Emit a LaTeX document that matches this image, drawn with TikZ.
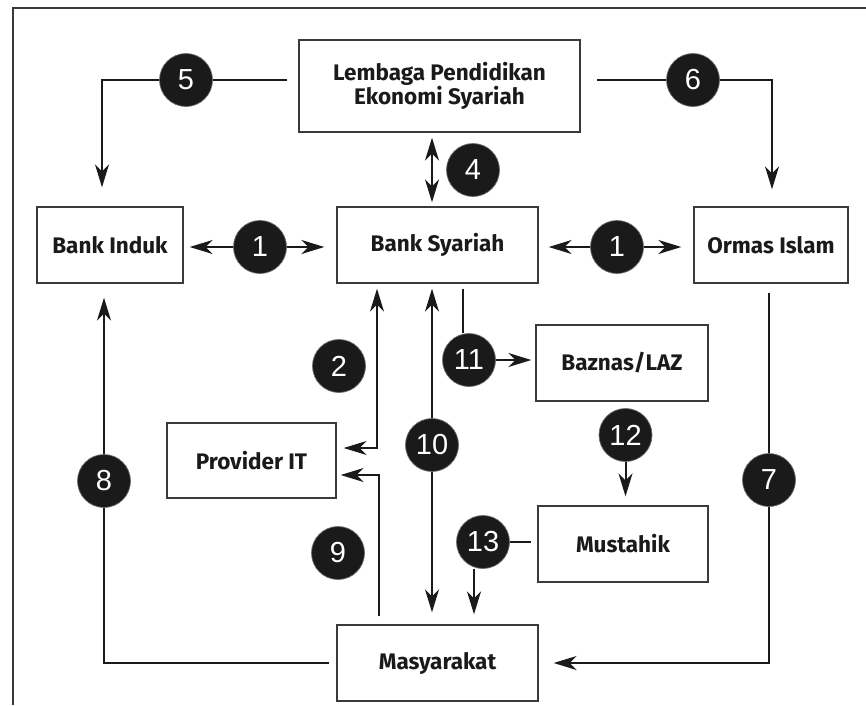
\documentclass[tikz,border=0pt]{standalone}
\usepackage{fontspec}
\usetikzlibrary{arrows.meta}
\newfontfamily\lblfont{Fira Sans}
\newfontfamily\numfont{Liberation Sans}
\definecolor{ink}{HTML}{1A1A1A}
\definecolor{boxline}{HTML}{3A3A3A}
\definecolor{ringgray}{HTML}{6A6A6A}
\begin{document}
\begin{tikzpicture}[x=1pt,y=-1pt,
 box/.style={draw=boxline, line width=1.3pt, fill=white, inner sep=0pt, align=center, text=ink,
   font=\lblfont\bfseries\fontsize{22.5}{24}\selectfont},
 num/.style={circle, fill=ink, draw=ringgray, line width=0.7pt, minimum size=53pt, inner sep=0pt,
   text=white, font=\numfont\fontsize{29}{29}\selectfont},
 ln/.style={draw=ink, line width=2pt},
 tipsty/.tip={Stealth[length=23pt,width=14pt,inset=7pt]},
 arr/.style={ln, -tipsty},
 darr/.style={ln, tipsty-tipsty},
 framesty/.style={draw=boxline, line width=1.3pt}]
\useasboundingbox (0,0) rectangle (866,705);
% frame
\draw[framesty] (866,8) -- (13,8) -- (13,705);
% boxes
\node[box, minimum width=281pt, minimum height=92pt] (lem) at (439.5,86) {Lembaga Pendidikan\\Ekonomi Syariah};
\node[box, minimum width=146pt, minimum height=76pt] (bi) at (110,245) {Bank Induk};
\node[box, minimum width=201pt, minimum height=76pt] (bs) at (437.5,245) {Bank Syariah};
\node[box, minimum width=154pt, minimum height=76pt] (or) at (771,245) {Ormas Islam};
\node[box, minimum width=169pt, minimum height=75pt] (pit) at (251.5,460.5) {Provider IT};
\node[box, minimum width=172pt, minimum height=76pt] (baz) at (622,363) {Baznas/LAZ};
\node[box, minimum width=170pt, minimum height=76pt] (mus) at (623,544) {Mustahik};
\node[box, minimum width=201pt, minimum height=76pt] (mas) at (437.5,663) {Masyarakat};
% numbered circles
\node[num] (c5) at (186,80) {5};
\node[num] (c6) at (693,80) {6};
\node[num] (c4) at (473,170) {4};
\node[num] (c1a) at (260,247) {1};
\node[num] (c1b) at (617,247) {1};
\node[num] (c2) at (339,366) {2};
\node[num] (c11) at (469,360) {11};
\node[num] (c12) at (625.5,435) {12};
\node[num] (c10) at (432,445) {10};
\node[num] (c8) at (104,481) {8};
\node[num] (c7) at (769,480) {7};
\node[num] (c9) at (338,553) {9};
\node[num] (c13) at (483,542) {13};
% 5
\draw[ln, shorten <=11pt] (lem.west |- c5) -- (c5);
\draw[arr, shorten >=19pt] (c5) -| ([xshift=-8pt]bi.north);
% 6
\draw[ln, shorten <=16pt] (lem.east |- c6) -- (c6);
\draw[arr, shorten >=17pt] (c6) -| ([xshift=1pt]or.north);
% 4
\draw[darr, shorten <=5pt, shorten >=4pt] ([xshift=-7.5pt]lem.south) -- ([xshift=-5.5pt]bs.north);
% 1
\draw[arr, shorten >=6pt] (c1a) -- (c1a -| bi.east);
\draw[arr, shorten >=12pt] (c1a) -- (c1a -| bs.west);
\draw[arr, shorten >=10pt] (c1b) -- (c1b -| bs.east);
\draw[arr, shorten >=12pt] (c1b) -- (c1b -| or.west);
% 2
\draw[darr, shorten <=5pt, shorten >=7pt] ([xshift=-60.5pt]bs.south) |- ([yshift=12.5pt]pit.east);
% 9
\draw[arr, shorten <=8pt, shorten >=4pt] ([xshift=-58.5pt]mas.north) |- ([yshift=-14.5pt]pit.east);
% 10
\draw[arr, shorten >=5pt] (c10) -- (c10 |- bs.south);
\draw[arr, shorten >=12pt] (c10) -- (c10 |- mas.north);
% 11
\draw[ln, shorten <=5pt] ([xshift=25.5pt]bs.south) -- ([xshift=-6pt]c11.north);
\draw[arr, shorten >=4pt] (c11) -- (c11 -| baz.west);
% 12
\draw[arr, shorten >=9pt] (c12) -- (c12 |- mus.north);
% 13
\draw[ln, shorten >=6pt] (c13) -- (c13 -| mus.west);
\draw[arr, shorten >=10pt] ([xshift=-9pt]c13.south) -- ([xshift=36.5pt]mas.north);
% 7
\draw[ln, shorten <=9pt] ([xshift=-2pt]or.south) -- (c7);
\draw[arr, shorten >=15pt] (c7) |- (mas.east);
% 8
\draw[ln, shorten <=7pt] (mas.west) -| (c8);
\draw[arr, shorten >=14pt] (c8) -- (c8 |- bi.south);
\end{tikzpicture}
\end{document}
